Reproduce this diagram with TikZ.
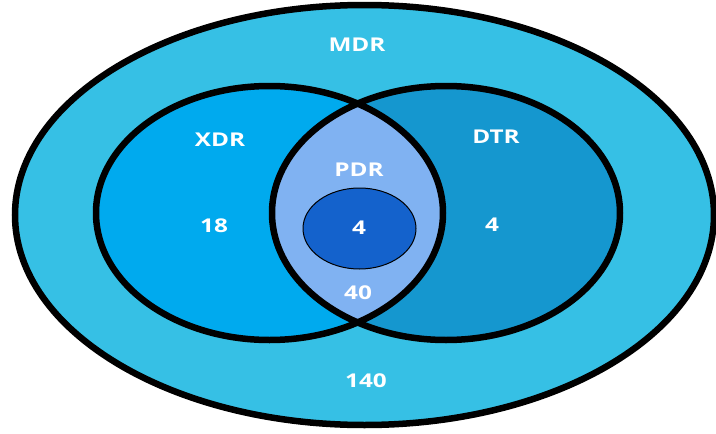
\documentclass[tikz,border=0pt]{standalone}
\usepackage{fontspec}
\setmainfont{Open Sans}
\definecolor{cMDR}{HTML}{36C0E5}
\definecolor{cXDR}{HTML}{00AAEE}
\definecolor{cDTR}{HTML}{1597CF}
\definecolor{cPDR}{HTML}{80B2F2}
\definecolor{cIn}{HTML}{1462CC}
\tikzset{
  lab/.style={text=white, font=\bfseries\fontsize{19}{21}\selectfont, inner sep=0pt, xscale=1.28},
  ring/.style={draw=black, line width=6.5pt}
}
\begin{document}
\begin{tikzpicture}[x=1pt,y=-1pt]
\useasboundingbox (0,0) rectangle (716,434);
\clip (0,0) rectangle (716,434);
% outer MDR
\fill[cMDR] (364.5,215) ellipse [x radius=349.5, y radius=210];
\draw[ring] (364.5,215) ellipse [x radius=349.5, y radius=210];
% XDR and DTR fills
\fill[cXDR] (269.5,213) ellipse [x radius=173.5, y radius=127];
\fill[cDTR] (446,213) ellipse [x radius=174, y radius=127];
\begin{scope}
  \clip (269.5,213) ellipse [x radius=173.5, y radius=127];
  \fill[cPDR] (446,213) ellipse [x radius=174, y radius=127];
\end{scope}
% inner ellipse
\filldraw[fill=cIn, draw=black, line width=1pt] (359.5,228.5) ellipse [x radius=56.5, y radius=40.5];
\draw[ring] (269.5,213) ellipse [x radius=173.5, y radius=127];
\draw[ring] (446,213) ellipse [x radius=174, y radius=127];
% labels
\node[lab] (mdr) at (357,45) {MDR};
\node[lab] (xdr) at (220,140) {XDR};
\node[lab] (dtr) at (496,137) {DTR};
\node[lab] (pdr) at (359,170) {PDR};
\node[lab] (n18) at (214,226) {18};
\node[lab] (n4a) at (359,228) {4};
\node[lab] (n4b) at (492,225) {4};
\node[lab] (n40) at (358,293) {40};
\node[lab] (n140) at (366,381) {140};
\end{tikzpicture}
\end{document}
